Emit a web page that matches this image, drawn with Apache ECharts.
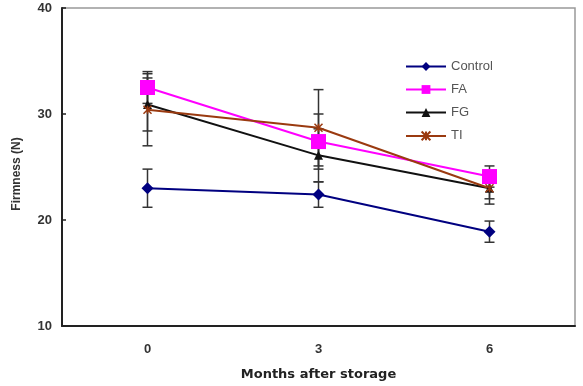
<!DOCTYPE html>
<html>
<head>
<meta charset="utf-8">
<script src="https://cdn.jsdelivr.net/npm/echarts@6/dist/echarts.min.js"></script>
<style>
  html, body { margin: 0; padding: 0; background: #fff; }
  #chart { width: 583px; height: 386px; }
</style>
</head>
<body>
<div id="chart"></div>
<script>
// months after storage
const months = ['0', '3', '6'];

// firmness (N)
const control = [23.0, 22.4, 18.9];
const fa = [32.5, 27.4, 24.1];
const fg = [30.9, 26.1, 23.0];
const ti = [30.4, 28.7, 23.0];

// error bar half-widths
const controlErr = [1.8, 1.2, 1.0];
const faErr = [1.5, 2.6, 1.0];
const fgErr = [2.5, 2.5, 1.5];
const tiErr = [3.4, 3.6, 1.0];

const yTicks = [10, 20, 30, 40];

const chart = echarts.init(document.getElementById('chart'));

// custom series that draws vertical error bars with caps
function errorBars(name, values, errs) {
  const data = values.map((v, i) => [i, v - errs[i], v + errs[i]]);
  return {
    name: name + ' err',
    type: 'custom',
    z: 1,
    silent: true,
    renderItem: (params, api) => {
      const lo = api.coord([api.value(0), api.value(1)]);
      const hi = api.coord([api.value(0), api.value(2)]);
      const cap = 5;
      const style = { stroke: '#333', lineWidth: 1.5 };
      return {
        type: 'group',
        children: [
          { type: 'line', shape: { x1: lo[0], y1: lo[1], x2: hi[0], y2: hi[1] }, style },
          { type: 'line', shape: { x1: lo[0] - cap, y1: lo[1], x2: lo[0] + cap, y2: lo[1] }, style },
          { type: 'line', shape: { x1: hi[0] - cap, y1: hi[1], x2: hi[0] + cap, y2: hi[1] }, style }
        ]
      };
    },
    data: data
  };
}

function lineSeries(name, values, color, symbol, size, extra) {
  return Object.assign({
    name: name,
    type: 'line',
    data: values,
    z: 3,
    symbol: symbol,
    symbolSize: size,
    lineStyle: { color: color, width: 2 },
    itemStyle: { color: color }
  }, extra || {});
}

const option = {
  animation: false,
  backgroundColor: '#fff',
  grid: {
    left: 62, top: 8, right: 8, bottom: 59,
    show: true,
    borderColor: '#999',
    borderWidth: 1.5
  },
  legend: {
    orient: 'vertical',
    left: 400,
    top: 55,
    itemWidth: 40,
    itemHeight: 11,
    itemGap: 10,
    backgroundColor: '#fff',
    textStyle: { fontFamily: 'Liberation Sans', fontSize: 13, color: '#555' },
    data: ['Control', 'FA', 'FG', 'TI']
  },
  xAxis: {
    type: 'category',
    data: months,
    boundaryGap: true,
    name: 'Months after storage',
    nameLocation: 'middle',
    nameGap: 42,
    nameTextStyle: { fontFamily: 'DejaVu Sans', fontWeight: 'bold', fontSize: 13, color: '#222' },
    axisLine: { lineStyle: { color: '#222', width: 2 } },
    axisTick: { inside: true, length: 4, lineStyle: { color: '#222', width: 1.5 } },
    axisLabel: { margin: 17, fontFamily: 'Liberation Sans', fontWeight: 'bold', fontSize: 13, color: '#333' },
    splitLine: { show: false }
  },
  yAxis: {
    type: 'value',
    min: yTicks[0],
    max: yTicks[yTicks.length - 1],
    interval: 10,
    name: 'Firmness (N)',
    nameLocation: 'middle',
    nameGap: 39,
    nameTextStyle: { fontFamily: 'Liberation Sans', fontWeight: 'bold', fontSize: 12, color: '#333', padding: [0, 0, 0, -14] },
    axisLine: { show: true, lineStyle: { color: '#222', width: 2 } },
    axisTick: { show: true, inside: true, length: 4, lineStyle: { color: '#222', width: 1.5 } },
    axisLabel: { margin: 10, fontFamily: 'Liberation Sans', fontWeight: 'bold', fontSize: 13, color: '#333' },
    splitLine: { show: false }
  },
  series: [
    errorBars('Control', control, controlErr),
    errorBars('FA', fa, faErr),
    errorBars('FG', fg, fgErr),
    errorBars('TI', ti, tiErr),
    lineSeries('Control', control, '#000080', 'diamond', 12),
    lineSeries('FA', fa, '#ff00ff', 'rect', 15),
    lineSeries('FG', fg, '#111111', 'triangle', 9),
    lineSeries('TI', ti, '#9a3a10', 'path://M0,0L10,10M10,0L0,10M5,0L5,10', 8, {
      itemStyle: { color: 'none', borderColor: '#9a3a10', borderWidth: 1.5 }
    })
  ]
};

chart.setOption(option);
</script>
</body>
</html>
